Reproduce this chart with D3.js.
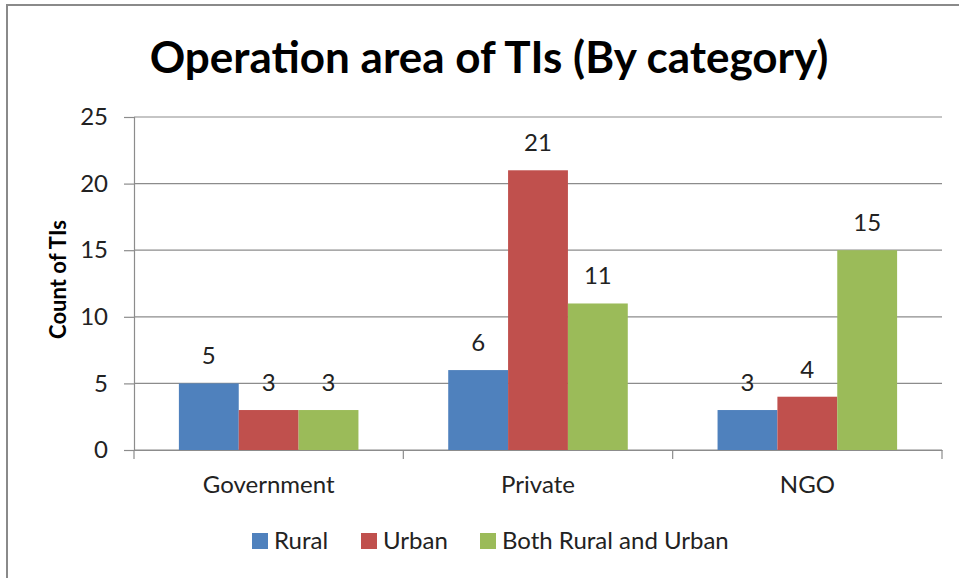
<!DOCTYPE html>
<html lang="en">
<head>
<meta charset="UTF-8">
<title>Operation area of TIs</title>
<script src="https://cdn.jsdelivr.net/npm/d3@7"></script>
<style>
    body { margin: 0; background: #fff; }
    text { font-family: Lato, "Open Sans", sans-serif; fill: #222; }
</style>
</head>
<body>
<div id="chart"></div>
<script>
// data
var categories = ["Government", "Private", "NGO"];
var seriesNames = ["Rural", "Urban", "Both Rural and Urban"];
var rural = [5, 6, 3];
var urban = [3, 21, 4];
var both = [3, 11, 15];
var yTicks = [0, 5, 10, 15, 20, 25];
var colors = ["#4F81BD", "#C0504D", "#9BBB59"];

var width = 959, height = 578;
var plotLeft = 134, plotRight = 942, plotTop = 117, plotBottom = 450;
var fs = "24px";

var svg = d3.select("#chart").append("svg")
    .attr("width", width)
    .attr("height", height);

// outer frame (cropped at right and bottom)
svg.append("rect")
    .attr("x", 7).attr("y", 5)
    .attr("width", 970).attr("height", 600)
    .attr("fill", "none")
    .attr("stroke", "#8a8a8a")
    .attr("stroke-width", 2);

svg.append("text")
    .attr("x", 489).attr("y", 73)
    .attr("text-anchor", "middle")
    .style("font-size", "44px")
    .style("font-weight", "bold")
    .style("fill", "#000")
    .text("Operation area of TIs (By category)");

var x0 = d3.scaleBand().domain(categories).range([plotLeft, plotRight]);
var x1 = d3.scaleBand().domain(seriesNames).range([0, x0.bandwidth()]).paddingOuter(0.75);
var y = d3.scaleLinear().domain([0, 25]).range([plotBottom, plotTop]);

// gridlines
svg.append("g")
    .selectAll("line")
    .data(yTicks)
    .enter().append("line")
    .attr("x1", plotLeft).attr("x2", plotRight)
    .attr("y1", function(d){ return y(d); })
    .attr("y2", function(d){ return y(d); })
    .attr("stroke", "#8c8c8c")
    .attr("stroke-width", 1.2);

// y axis
var yAxis = svg.append("g")
    .attr("transform", "translate(" + plotLeft + ",0)")
    .call(d3.axisLeft(y).tickValues(yTicks).tickSize(10).tickPadding(16));
yAxis.select(".domain").attr("stroke", "#8c8c8c").attr("stroke-width", 1.2);
yAxis.selectAll(".tick line").attr("stroke", "#8c8c8c").attr("stroke-width", 1.2);
yAxis.selectAll("text").style("font-size", fs).style("font-family", "Lato, sans-serif").attr("fill", "#222");

svg.append("text")
    .attr("transform", "translate(66," + ((plotTop + plotBottom) / 2 - 4) + ") rotate(-90)")
    .attr("text-anchor", "middle")
    .style("font-size", "22px")
    .style("font-weight", "bold")
    .style("fill", "#000")
    .text("Count of TIs");

// bars
var rows = categories.map(function(c, i) {
    return { cat: c, values: [rural[i], urban[i], both[i]] };
});
var groups = svg.append("g").selectAll("g")
    .data(rows)
    .enter().append("g")
    .attr("transform", function(d){ return "translate(" + x0(d.cat) + ",0)"; });

groups.selectAll("rect")
    .data(function(d){ return d.values.map(function(v, j){ return { s: seriesNames[j], v: v, j: j }; }); })
    .enter().append("rect")
    .attr("x", function(d){ return x1(d.s); })
    .attr("y", function(d){ return y(d.v); })
    .attr("width", x1.bandwidth())
    .attr("height", function(d){ return plotBottom - y(d.v); })
    .attr("fill", function(d){ return colors[d.j]; });

groups.selectAll(".lbl")
    .data(function(d){ return d.values.map(function(v, j){ return { s: seriesNames[j], v: v }; }); })
    .enter().append("text")
    .attr("class", "lbl")
    .attr("x", function(d){ return x1(d.s) + x1.bandwidth() / 2; })
    .attr("y", function(d){ return y(d.v) - 19; })
    .attr("text-anchor", "middle")
    .style("font-size", fs)
    .text(function(d){ return d.v; });

// x axis
var xAxis = svg.append("g")
    .attr("transform", "translate(0," + plotBottom + ")")
    .call(d3.axisBottom(x0).tickSize(0).tickPadding(26));
xAxis.select(".domain").attr("stroke", "#8c8c8c").attr("stroke-width", 1.2);
xAxis.selectAll("text").style("font-size", fs).style("font-family", "Lato, sans-serif").attr("fill", "#222");
svg.append("g").selectAll("line")
    .data(x0.domain().map(function(c){ return x0(c); }).concat([plotRight]))
    .enter().append("line")
    .attr("x1", function(d){ return d; }).attr("x2", function(d){ return d; })
    .attr("y1", plotBottom).attr("y2", plotBottom + 9)
    .attr("stroke", "#8c8c8c").attr("stroke-width", 1.2);

// legend
var legendX = [252, 361, 480];
var legend = svg.append("g").selectAll("g")
    .data(seriesNames)
    .enter().append("g")
    .attr("transform", function(d, i){ return "translate(" + legendX[i] + ",533)"; });
legend.append("rect")
    .attr("width", 16).attr("height", 16)
    .attr("fill", function(d, i){ return colors[i]; });
legend.append("text")
    .attr("x", 22).attr("y", 16)
    .style("font-size", fs)
    .text(function(d){ return d; });
</script>
</body>
</html>
